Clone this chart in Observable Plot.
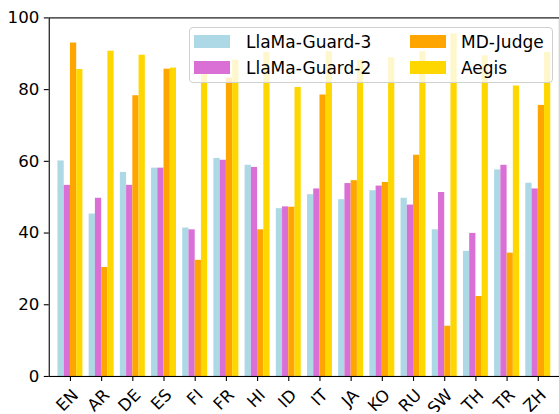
<!DOCTYPE html>
<html>
<head>
<meta charset="utf-8">
<script src="https://cdn.jsdelivr.net/npm/d3@7"></script>
<script src="https://cdn.jsdelivr.net/npm/@observablehq/plot@0.6"></script>
<style>
  html, body { margin: 0; padding: 0; overflow: hidden; background: white; }
  #wrap { position: relative; width: 559px; height: 414px; overflow: hidden; }
  #legend { position: absolute; box-sizing: border-box; background: rgba(255,255,255,0.8);
            border: 1px solid #d0d0d0; border-radius: 4px; font-family: "DejaVu Sans"; font-size: 17px; color: #000; }
  .sw { position: absolute; width: 36px; height: 13px; }
  .lb { position: absolute; line-height: 17px; white-space: nowrap; }
</style>
</head>
<body>
<div id="wrap"></div>
<script>
const langs = ["EN","AR","DE","ES","FI","FR","HI","ID","IT","JA","KO","RU","SW","TH","TR","ZH"];
const seriesNames = ["LlaMa-Guard-3","LlaMa-Guard-2","MD-Judge","Aegis"];
const seriesColors = ["#add8e6","#da70d6","#ffa500","#ffd700"];
const llamaGuard3 = [60.1,45.3,56.9,58.1,41.4,60.8,58.9,46.8,50.7,49.3,51.8,49.7,40.9,34.9,57.6,53.9];
const llamaGuard2 = [53.3,49.7,53.3,58.1,40.9,60.3,58.3,47.3,52.3,53.8,53.1,47.8,51.3,39.9,58.9,52.3];
const mdJudge     = [93.0,30.4,78.3,85.7,32.4,83.2,40.9,47.2,78.5,54.6,54.1,61.7,14.0,22.3,34.4,75.6];
const aegis       = [85.6,90.7,89.6,86.0,84.7,88.2,90.4,80.6,90.6,88.2,88.9,90.6,95.6,89.4,81.0,90.4];
const yTicks = [0,20,40,60,80,100];

const seriesValues = [llamaGuard3, llamaGuard2, mdJudge, aegis];
const barWidth = 0.2;
const data = [];
seriesValues.forEach((vals, s) => {
  vals.forEach((v, i) => {
    const off = (s - 1.5) * barWidth;
    data.push({i, series: seriesNames[s], value: v, x1: i + off - barWidth / 2, x2: i + off + barWidth / 2});
  });
});

const chart = Plot.plot({
  width: 562,
  height: 414,
  marginLeft: 49,
  marginRight: 0,
  marginTop: 17.5,
  marginBottom: 36,
  style: {fontFamily: "DejaVu Sans", fontSize: "16.7px", color: "black", background: "white"},
  x: {domain: [-0.68, 15.68], axis: null},
  y: {domain: [0, 100], axis: null},
  color: {domain: seriesNames, range: seriesColors},
  marks: [
    Plot.rectY(data, {x1: "x1", x2: "x2", y: "value", fill: "series"}),
    Plot.frame({stroke: "black", strokeWidth: 1.1}),
    Plot.axisX({ticks: d3.range(langs.length), tickFormat: i => langs[i], tickSize: 5, strokeWidth: 1.1, text: null}),
    Plot.axisX({ticks: d3.range(langs.length), tickFormat: i => langs[i], tickSize: 0, tickRotate: -45, tickPadding: 8, dx: 5, dy: 8}),
    Plot.axisY({ticks: yTicks, tickSize: 5, tickPadding: 5, label: null, strokeWidth: 1.1})
  ]
});
const wrap = document.getElementById("wrap");
wrap.appendChild(chart);

// legend overlay
const legend = document.createElement("div");
legend.id = "legend";
Object.assign(legend.style, {left: "189px", top: "26.5px", width: "364px", height: "56.5px"});
const cols = [{sw: 4, tx: 56}, {sw: 220, tx: 271}];
const rows = [7, 33.7];
seriesNames.forEach((name, k) => {
  const c = cols[Math.floor(k / 2)], r = rows[k % 2];
  const sw = document.createElement("div");
  sw.className = "sw";
  sw.style.left = c.sw + "px";
  sw.style.top = r + "px";
  sw.style.background = seriesColors[k];
  const lb = document.createElement("div");
  lb.className = "lb";
  lb.style.left = c.tx + "px";
  lb.style.top = (r - 1) + "px";
  lb.textContent = name;
  legend.appendChild(sw);
  legend.appendChild(lb);
});
wrap.appendChild(legend);
</script>
</body>
</html>
